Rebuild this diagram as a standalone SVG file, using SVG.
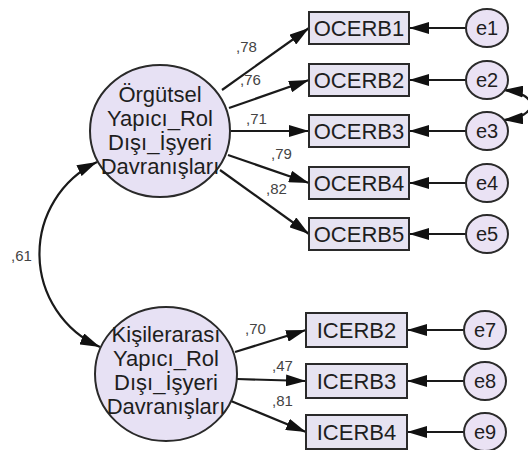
<svg xmlns="http://www.w3.org/2000/svg" width="528" height="450" viewBox="0 0 528 450">
<style>
.lat{fill:#E7E1F4;stroke:#2a2a2a;stroke-width:2}
.box{fill:#E6E3F1;stroke:#2a2a2a;stroke-width:2}
.err{fill:#EAE2F4;stroke:#2a2a2a;stroke-width:2}
.lt{font-family:"Liberation Sans",Arial,sans-serif;font-size:22px;fill:#1e1e1e;text-anchor:middle}
.bt{font-family:"Liberation Sans",Arial,sans-serif;font-size:22px;fill:#1e1e1e;text-anchor:middle}
.et{font-family:"Liberation Sans",Arial,sans-serif;font-size:20px;fill:#1e1e1e;text-anchor:middle}
.lb{font-family:"Liberation Sans",Arial,sans-serif;font-size:15px;fill:#444}
.ln{fill:none;stroke:#1a1a1a;stroke-width:2.2}
</style>
<defs>
<marker id="ah" markerUnits="userSpaceOnUse" markerWidth="20" markerHeight="12" refX="20" refY="6" orient="auto-start-reverse">
<path d="M0,0 L20,6 L0,12 z" fill="#111"/>
</marker>
</defs>
<rect width="528" height="450" fill="#fff"/>
<g id="connectors">
<path class="ln" d="M97,162 A102,102 0 0 0 100,347" marker-start="url(#ah)" marker-end="url(#ah)"/>
<path class="ln" d="M503,90 C540,93 540,117 503,120" marker-start="url(#ah)" marker-end="url(#ah)"/>
<line class="ln" x1="222" y1="90" x2="309" y2="28" marker-end="url(#ah)"/>
<line class="ln" x1="229" y1="108" x2="309" y2="80" marker-end="url(#ah)"/>
<line class="ln" x1="231" y1="131" x2="309" y2="131" marker-end="url(#ah)"/>
<line class="ln" x1="228" y1="155" x2="309" y2="183" marker-end="url(#ah)"/>
<line class="ln" x1="220" y1="170" x2="309" y2="234" marker-end="url(#ah)"/>
<line class="ln" x1="235" y1="352" x2="306" y2="330" marker-end="url(#ah)"/>
<line class="ln" x1="237" y1="379" x2="306" y2="381" marker-end="url(#ah)"/>
<line class="ln" x1="231" y1="401" x2="306" y2="432" marker-end="url(#ah)"/>
<line class="ln" x1="466" y1="28" x2="409" y2="28" marker-end="url(#ah)"/>
<line class="ln" x1="466" y1="80" x2="409" y2="80" marker-end="url(#ah)"/>
<line class="ln" x1="466" y1="131" x2="409" y2="131" marker-end="url(#ah)"/>
<line class="ln" x1="466" y1="183" x2="409" y2="183" marker-end="url(#ah)"/>
<line class="ln" x1="466" y1="234" x2="409" y2="234" marker-end="url(#ah)"/>
<line class="ln" x1="464" y1="330" x2="407" y2="330" marker-end="url(#ah)"/>
<line class="ln" x1="464" y1="381" x2="407" y2="381" marker-end="url(#ah)"/>
<line class="ln" x1="464" y1="432" x2="407" y2="432" marker-end="url(#ah)"/>
<text class="lb" x="236" y="52">,78</text>
<text class="lb" x="240" y="85">,76</text>
<text class="lb" x="246" y="124">,71</text>
<text class="lb" x="271" y="159">,79</text>
<text class="lb" x="266" y="194">,82</text>
<text class="lb" x="245" y="334">,70</text>
<text class="lb" x="272" y="371">,47</text>
<text class="lb" x="272" y="406">,81</text>
<text class="lb" x="11" y="261">,61</text>
</g>
<g id="F1">
<ellipse class="lat" cx="160" cy="131" rx="70" ry="66"/>
<text class="lt" x="160" y="102">Örgütsel</text>
<text class="lt" x="160" y="126">Yapıcı_Rol</text>
<text class="lt" x="160" y="150">Dışı_İşyeri</text>
<text class="lt" x="160" y="174">Davranışları</text>
</g>
<g id="F2">
<ellipse class="lat" cx="166" cy="374" rx="71" ry="67"/>
<text class="lt" x="166" y="342">Kişilerarası</text>
<text class="lt" x="166" y="366">Yapıcı_Rol</text>
<text class="lt" x="166" y="390">Dışı_İşyeri</text>
<text class="lt" x="166" y="414">Davranışları</text>
</g>
<g id="OCERB1"><rect class="box" x="309" y="12" width="100" height="32"/><text class="bt" x="359" y="36">OCERB1</text></g>
<g id="OCERB2"><rect class="box" x="309" y="64" width="100" height="32"/><text class="bt" x="359" y="88">OCERB2</text></g>
<g id="OCERB3"><rect class="box" x="309" y="115" width="100" height="32"/><text class="bt" x="359" y="139">OCERB3</text></g>
<g id="OCERB4"><rect class="box" x="309" y="167" width="100" height="32"/><text class="bt" x="359" y="191">OCERB4</text></g>
<g id="OCERB5"><rect class="box" x="309" y="218" width="100" height="32"/><text class="bt" x="359" y="242">OCERB5</text></g>
<g id="ICERB2"><rect class="box" x="306" y="313" width="101" height="34"/><text class="bt" x="356.5" y="338">ICERB2</text></g>
<g id="ICERB3"><rect class="box" x="306" y="364" width="101" height="34"/><text class="bt" x="356.5" y="389">ICERB3</text></g>
<g id="ICERB4"><rect class="box" x="306" y="415" width="101" height="34"/><text class="bt" x="356.5" y="440">ICERB4</text></g>
<g id="e1"><ellipse class="err" cx="487" cy="28" rx="21" ry="19"/><text class="et" x="487" y="35">e1</text></g>
<g id="e2"><ellipse class="err" cx="487" cy="80" rx="21" ry="19"/><text class="et" x="487" y="87">e2</text></g>
<g id="e3"><ellipse class="err" cx="487" cy="131" rx="21" ry="19"/><text class="et" x="487" y="138">e3</text></g>
<g id="e4"><ellipse class="err" cx="487" cy="183" rx="21" ry="19"/><text class="et" x="487" y="190">e4</text></g>
<g id="e5"><ellipse class="err" cx="487" cy="234" rx="21" ry="19"/><text class="et" x="487" y="241">e5</text></g>
<g id="e7"><ellipse class="err" cx="485" cy="330" rx="21" ry="19"/><text class="et" x="485" y="337">e7</text></g>
<g id="e8"><ellipse class="err" cx="485" cy="381" rx="21" ry="19"/><text class="et" x="485" y="388">e8</text></g>
<g id="e9"><ellipse class="err" cx="485" cy="432" rx="21" ry="19"/><text class="et" x="485" y="439">e9</text></g>
</svg>
